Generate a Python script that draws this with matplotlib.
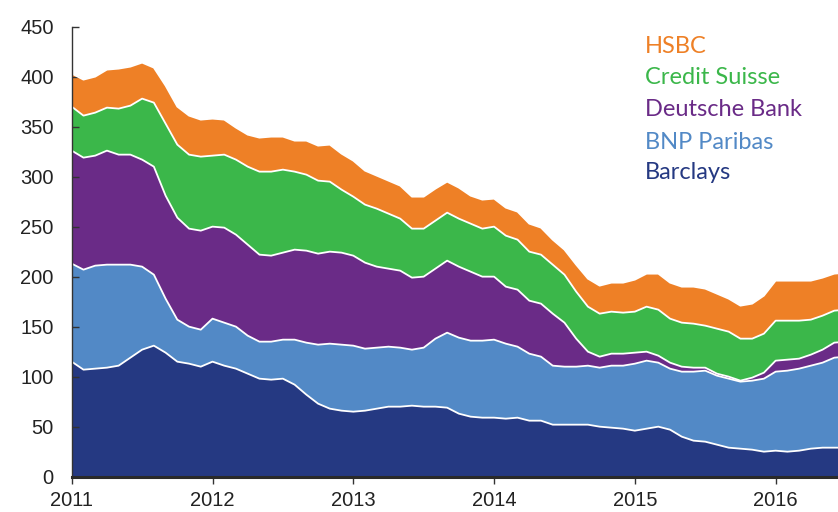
import numpy as np
import matplotlib
matplotlib.use('Agg')
import matplotlib.pyplot as plt

# monthly points, Jan 2011 onwards
n_months = 67
start_year = 2011

barclays = [115, 107, 108, 109, 111, 119, 127, 131, 124, 115, 113, 110, 115, 111, 108, 103, 98, 97, 98, 92, 82, 73, 68, 66, 65,
            66, 68, 70, 70, 71, 70, 70, 69, 63, 60, 59, 59, 58, 59, 56, 56, 52, 52, 52, 52, 50, 49, 48,
            46, 48, 50, 47, 40, 36, 35, 32, 29, 28, 27, 25, 26, 25, 26, 28, 29, 29, 29]
bnp = [98, 100, 103, 103, 101, 93, 83, 71, 54, 42, 37, 37, 43, 43, 42, 38, 37, 38, 39, 45, 52, 59, 65, 66, 66,
       62, 61, 60, 59, 56, 59, 68, 75, 76, 76, 77, 78, 75, 71, 67, 64, 59, 58, 58, 59, 59, 62, 63,
       67, 68, 64, 61, 65, 69, 71, 69, 69, 67, 69, 73, 79, 81, 82, 83, 85, 90, 91]
deutsche = [113, 112, 110, 114, 110, 110, 107, 108, 103, 102, 98, 99, 92, 95, 92, 91, 87, 86, 87, 90, 92, 91, 92, 92, 90,
            86, 81, 78, 77, 72, 71, 70, 72, 71, 69, 64, 63, 57, 57, 53, 53, 52, 44, 28, 14, 11, 12, 12,
            11, 9, 7, 6, 5, 4, 3, 2, 2, 1, 3, 6, 11, 11, 10, 11, 13, 15, 15]
credit_suisse = [44, 42, 43, 43, 46, 49, 61, 64, 72, 73, 74, 74, 71, 73, 75, 78, 83, 84, 83, 78, 76, 73, 70, 63, 59,
                 58, 58, 55, 52, 49, 48, 48, 48, 48, 48, 48, 50, 51, 50, 49, 49, 49, 48, 47, 45, 43, 42, 41,
                 41, 45, 46, 44, 44, 44, 42, 45, 45, 42, 39, 39, 40, 39, 38, 35, 34, 32, 32]
hsbc = [33, 36, 36, 38, 40, 39, 36, 35, 38, 38, 39, 37, 37, 35, 32, 32, 34, 35, 33, 31, 34, 35, 37, 36, 36,
        34, 33, 33, 33, 32, 32, 32, 31, 31, 28, 29, 28, 28, 28, 28, 27, 25, 25, 27, 28, 28, 29, 30,
        32, 33, 36, 36, 36, 37, 37, 35, 33, 33, 35, 38, 40, 40, 40, 39, 38, 37, 37]

names = ['Barclays', 'BNP Paribas', 'Deutsche Bank', 'Credit Suisse', 'HSBC']
colors = ['#253982', '#5289C6', '#6A2B87', '#3BB74A', '#EE8026']
series = [barclays, bnp, deutsche, credit_suisse, hsbc]

x = start_year + np.arange(n_months) / 12.0

fig = plt.figure(figsize=(8.38, 5.12), dpi=100)
ax = fig.add_axes([0.0856, 0.069, 0.9144, 0.879])

ax.stackplot(x, *series, colors=colors, linewidth=0)
tops = np.cumsum(np.array(series, dtype=float), axis=0)
for t in tops:
    ax.plot(x, t, color='white', lw=1.3, zorder=3)

ax.set_xlim(2011, 2016.443)
ax.set_ylim(0, 450)
ax.set_yticks(np.arange(0, 451, 50))
ax.set_xticks(range(2011, 2017))

for s in ['top', 'right']:
    ax.spines[s].set_visible(False)
ax.spines['left'].set_color('#333333')
ax.spines['left'].set_linewidth(1.0)
ax.spines['bottom'].set_color('#2a2a2a')
ax.spines['bottom'].set_linewidth(2.2)
ax.spines['bottom'].set_zorder(5)
ax.spines['left'].set_zorder(5)

tick_font = ['Liberation Sans Narrow', 'Liberation Sans', 'DejaVu Sans']
ax.tick_params(axis='y', direction='in', length=5, width=1, colors='#333333', pad=13, labelsize=14.5)
ax.tick_params(axis='x', direction='out', length=5, width=1, colors='#333333', pad=5, labelsize=14.5)
for lab in ax.get_xticklabels() + ax.get_yticklabels():
    lab.set_family(tick_font)
    lab.set_color('#222222')

legend_y = [46.7, 77.3, 109.3, 142.7, 172.7]
for name, col, ypx in zip(names[::-1], colors[::-1], legend_y):
    fig.text(645 / 838, 1 - ypx / 512, name, color=col, fontsize=17,
             family=['Lato', 'DejaVu Sans'], va='center', ha='left')

plt.savefig('out.png', dpi=100)
